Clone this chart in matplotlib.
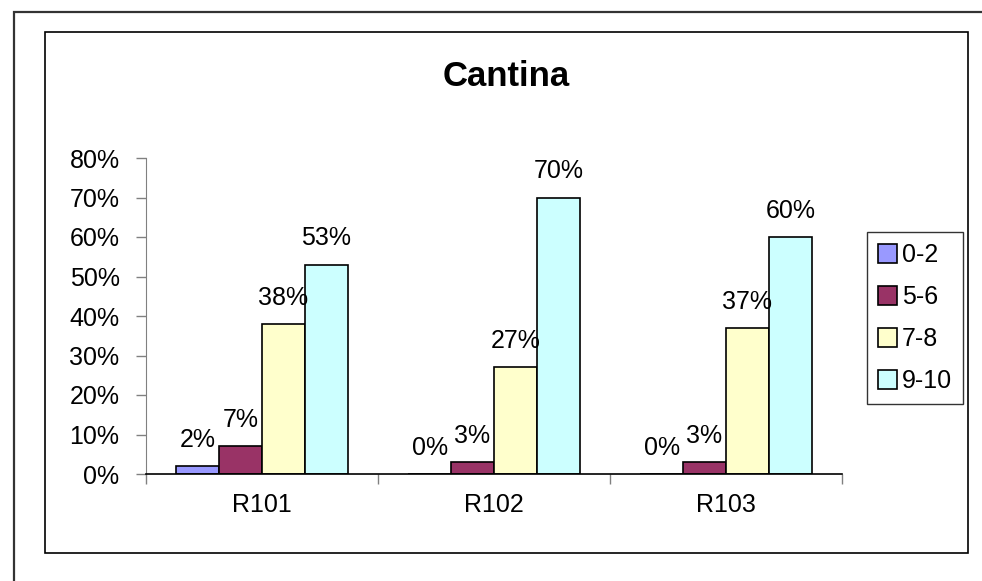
import matplotlib
matplotlib.use("Agg")
import matplotlib.pyplot as plt
from matplotlib.patches import Rectangle
import numpy as np

plt.rcParams['font.family'] = ['Liberation Sans', 'DejaVu Sans']

categories = ['R101', 'R102', 'R103']
series = ['0-2', '5-6', '7-8', '9-10']
values = {
    '0-2': [2, 0, 0],
    '5-6': [7, 3, 3],
    '7-8': [38, 27, 37],
    '9-10': [53, 70, 60],
}
colors = ['#9999FF', '#993366', '#FFFFCC', '#CCFFFF']
yticks = [0, 10, 20, 30, 40, 50, 60, 70, 80]

W, H = 982, 581
fig = plt.figure(figsize=(W / 100, H / 100), dpi=100)

# frames around the chart
fig.patches.append(Rectangle((14 / W, 1 - 600 / H), 1000 / W, (600 - 12) / H,
                             transform=fig.transFigure, fill=False,
                             edgecolor='#333333', linewidth=1.6))
fig.patches.append(Rectangle((45 / W, 1 - 553 / H), (968 - 45) / W, (553 - 32) / H,
                             transform=fig.transFigure, fill=False,
                             edgecolor='black', linewidth=1.2))

ax = fig.add_axes([146 / W, 1 - 474 / H, (842 - 146) / W, (474 - 158) / H])

x = np.arange(len(categories))
bw = 0.185
for i, s in enumerate(series):
    pos = x + (i - 1.5) * bw
    ax.bar(pos, values[s], width=bw, color=colors[i], edgecolor='black',
           linewidth=1.2, label=s, zorder=2)
    for px, v in zip(pos, values[s]):
        ax.text(px, v + 3.6, f'{v}%', ha='center', va='bottom', fontsize=18)

ax.set_xlim(-0.5, len(categories) - 0.5)
ax.set_ylim(0, 80)
ax.set_yticks(yticks)
ax.set_yticklabels([f'{t}%' for t in yticks], fontsize=18)
ax.set_xticks(np.arange(len(categories) + 1) - 0.5)
ax.set_xticklabels([])
ax.set_xticks(x, minor=True)
ax.set_xticklabels(categories, minor=True, fontsize=18)
ax.tick_params(axis='x', which='minor', length=0, pad=14)
ax.tick_params(axis='x', which='major', length=7, color='#808080', width=1)
ax.tick_params(axis='y', length=7, color='#808080', width=1, pad=12)

for side in ['top', 'right']:
    ax.spines[side].set_visible(False)
ax.spines['left'].set_color('#808080')
ax.spines['bottom'].set_color('black')
ax.spines['bottom'].set_linewidth(1.2)

fig.text(506 / W, 1 - 76 / H, 'Cantina', ha='center', va='center',
         fontsize=25, fontweight='bold')

handles, labels = ax.get_legend_handles_labels()
leg = fig.legend(handles, labels, loc='upper left',
                 bbox_to_anchor=(867 / W, 1 - 232 / H),
                 fontsize=18, frameon=True, fancybox=False, edgecolor='black',
                 handlelength=0.75, handleheight=0.75, handletextpad=0.2,
                 labelspacing=0.72, borderpad=0.45, borderaxespad=0)
leg.get_frame().set_linewidth(1.0)

fig.savefig('out.png', dpi=100)
